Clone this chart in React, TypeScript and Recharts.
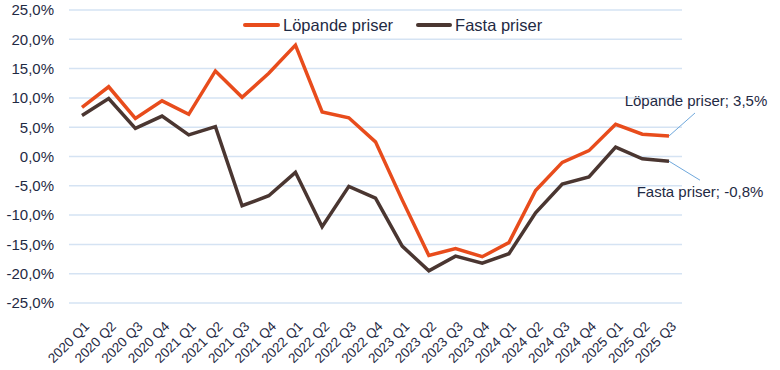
import React from "react";
import {
  LineChart,
  Line,
  XAxis,
  YAxis,
  CartesianGrid,
} from "recharts";

const quarters = [
  "2020 Q1", "2020 Q2", "2020 Q3", "2020 Q4",
  "2021 Q1", "2021 Q2", "2021 Q3", "2021 Q4",
  "2022 Q1", "2022 Q2", "2022 Q3", "2022 Q4",
  "2023 Q1", "2023 Q2", "2023 Q3", "2023 Q4",
  "2024 Q1", "2024 Q2", "2024 Q3", "2024 Q4",
  "2025 Q1", "2025 Q2", "2025 Q3",
];

// Löpande priser (current prices), yearly change in %
const lopande = [
  8.4, 11.9, 6.5, 9.5,
  7.2, 14.6, 10.1, 14.2,
  19.0, 7.6, 6.6, 2.5,
  -7.4, -16.9, -15.7, -17.1,
  -14.7, -5.8, -1.0, 1.0,
  5.5, 3.8, 3.5,
];

// Fasta priser (constant prices)
const fasta = [
  7.0, 9.9, 4.8, 6.9,
  3.7, 5.1, -8.4, -6.7,
  -2.7, -12.0, -5.1, -7.1,
  -15.3, -19.5, -17.0, -18.2,
  -16.6, -9.6, -4.7, -3.5,
  1.6, -0.4, -0.8,
];

const yTicks = [-25, -20, -15, -10, -5, 0, 5, 10, 15, 20, 25];

const data = quarters.map((q, i) => ({ q, lopande: lopande[i], fasta: fasta[i] }));

const ORANGE = "#e84c1c";
const DARK = "#4a3631";
const TEXT = "#1f2a44";
const GRID = "#d5e3f3";
const LEADER = "#6fa8dc";
const FONT = "'Liberation Sans', Arial, sans-serif";

const fmt = (v: number) => {
  const s = (Math.abs(v) < 1e-9 ? 0 : v).toFixed(1).replace(".", ",");
  return s + "%";
};

const XTick = ({ x, y, payload }: any) => (
  <g transform={`translate(${x + 5},${y + 13})`}>
    <text
      x={0}
      y={0}
      textAnchor="end"
      dominantBaseline="central"
      transform="rotate(-45)"
      fill={TEXT}
      fontSize={13.5}
      fontFamily={FONT}
    >
      {payload.value}
    </text>
  </g>
);

const makeEndLabel =
  (text: string, dx: number, dy: number, tx: number, ty: number) =>
  (props: any) => {
    if (props.index !== quarters.length - 1) return null;
    const { x, y } = props;
    return (
      <g>
        <line x1={x} y1={y} x2={x + dx} y2={y + dy} stroke={LEADER} strokeWidth={1} />
        <text
          x={x + tx}
          y={y + ty}
          textAnchor="middle"
          fill={TEXT}
          fontSize={15}
          fontFamily={FONT}
        >
          {text}
        </text>
      </g>
    );
  };

const legendBox: React.CSSProperties = {
  position: "absolute",
  left: 243,
  top: 14,
  display: "flex",
  alignItems: "center",
  fontFamily: FONT,
  fontSize: 16.5,
  color: TEXT,
  background: "#fff",
  lineHeight: "22px",
};

export default function App() {
  return (
    <div style={{ position: "absolute", left: 0, top: 0, width: 780, height: 370, background: "#fff" }}>
      <LineChart
        width={780}
        height={370}
        data={data}
        margin={{ top: 10, right: 98, bottom: 0, left: 0 }}
      >
        <CartesianGrid vertical={false} stroke={GRID} strokeWidth={1.5} />
        <XAxis
          dataKey="q"
          interval={0}
          padding={{ left: 13, right: 13 }}
          tickLine={false}
          axisLine={false}
          tick={<XTick />}
          height={67}
        />
        <YAxis
          width={69}
          domain={[-25, 25]}
          ticks={yTicks}
          interval={0}
          tickFormatter={fmt}
          tickLine={false}
          axisLine={false}
          tickMargin={9}
          tick={{ fill: TEXT, fontSize: 15, fontFamily: FONT }}
        />
        <Line
          dataKey="fasta"
          stroke={DARK}
          strokeWidth={3.5}
          dot={false}
          isAnimationActive={false}
          label={makeEndLabel("Fasta priser; -0,8%", 31, 19, 31, 36)}
        />
        <Line
          dataKey="lopande"
          stroke={ORANGE}
          strokeWidth={3.5}
          dot={false}
          isAnimationActive={false}
          label={makeEndLabel("Löpande priser; 3,5%", 26, -23, 27, -30)}
        />
      </LineChart>
      <div style={legendBox}>
        <span style={{ width: 37, height: 4, background: ORANGE, borderRadius: 2, marginRight: 3 }} />
        <span style={{ marginRight: 23 }}>Löpande priser</span>
        <span style={{ width: 36, height: 4, background: DARK, borderRadius: 2, marginRight: 3 }} />
        <span>Fasta priser</span>
      </div>
    </div>
  );
}
